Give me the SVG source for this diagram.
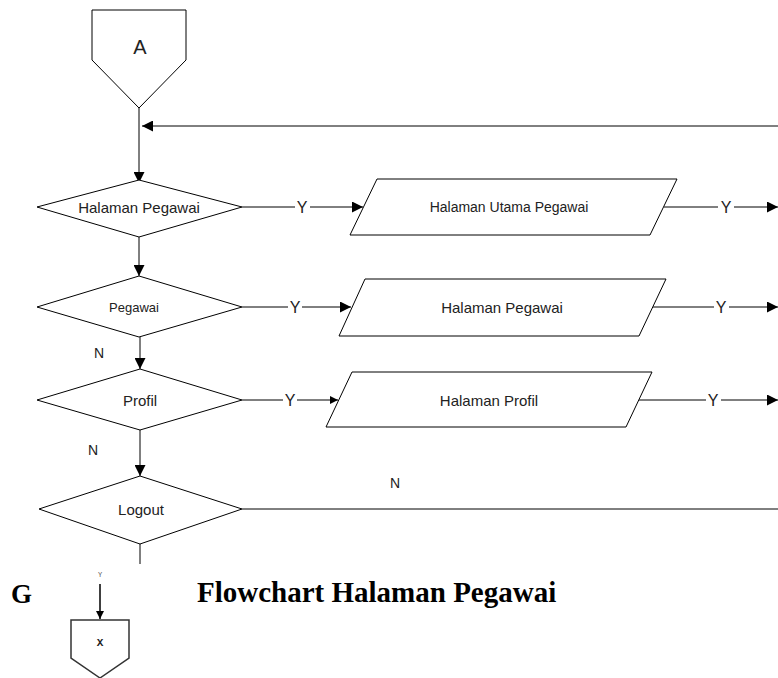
<svg xmlns="http://www.w3.org/2000/svg" width="778" height="678" viewBox="0 0 778 678">
<style>
.s{fill:#fff;stroke:#000;stroke-width:1}
.l{fill:none;stroke:#000;stroke-width:1}
.t{font-family:"Liberation Sans",Arial,sans-serif;font-size:14px;fill:#222;text-anchor:middle;dominant-baseline:central}
.y{font-family:"Liberation Sans",Arial,sans-serif;font-size:16px;fill:#222;text-anchor:middle;dominant-baseline:central}
.b{font-family:"Liberation Serif","Times New Roman",serif;font-weight:bold;fill:#000}
</style>
<defs>
<marker id="ah" viewBox="0 0 10 10" refX="10" refY="5" markerWidth="11" markerHeight="11" markerUnits="userSpaceOnUse" orient="auto">
<path d="M0,0 L10,5 L0,10 Z" fill="#000"/>
</marker>
<marker id="ahs" viewBox="0 0 10 10" refX="10" refY="5" markerWidth="8" markerHeight="8" markerUnits="userSpaceOnUse" orient="auto">
<path d="M0,0 L10,5 L0,10 Z" fill="#000"/>
</marker>
</defs>
<g id="connectors">
<line class="l" x1="139" y1="108" x2="139" y2="183" marker-end="url(#ah)"/>
<line class="l" x1="778" y1="126" x2="142" y2="126" marker-end="url(#ah)"/>
<line class="l" x1="242" y1="207" x2="295" y2="207"/>
<line class="l" x1="310" y1="207" x2="363" y2="207" marker-end="url(#ah)"/>
<line class="l" x1="664" y1="207" x2="718" y2="207"/>
<line class="l" x1="734" y1="207" x2="778" y2="207" marker-end="url(#ah)"/>
<line class="l" x1="139" y1="237" x2="139" y2="276" marker-end="url(#ah)"/>
<line class="l" x1="242" y1="307" x2="288" y2="307"/>
<line class="l" x1="302" y1="307" x2="351" y2="307" marker-end="url(#ah)"/>
<line class="l" x1="653" y1="307" x2="714" y2="307"/>
<line class="l" x1="729" y1="307" x2="778" y2="307" marker-end="url(#ah)"/>
<line class="l" x1="140" y1="337" x2="140" y2="369" marker-end="url(#ah)"/>
<line class="l" x1="242" y1="400" x2="283" y2="400"/>
<line class="l" x1="297" y1="400" x2="338" y2="400" marker-end="url(#ahs)"/>
<line class="l" x1="639" y1="400" x2="706" y2="400"/>
<line class="l" x1="721" y1="400" x2="778" y2="400" marker-end="url(#ah)"/>
<line class="l" x1="140" y1="430" x2="140" y2="476" marker-end="url(#ah)"/>
<line class="l" x1="242" y1="509" x2="778" y2="509"/>
<line class="l" x1="140" y1="544" x2="140" y2="564"/>
<text class="y" x="302" y="207">Y</text>
<text class="y" x="726" y="207">Y</text>
<text class="y" x="295" y="307">Y</text>
<text class="y" x="721" y="307">Y</text>
<text class="y" x="290" y="400">Y</text>
<text class="y" x="713" y="400">Y</text>
<text class="t" x="99" y="353">N</text>
<text class="t" x="93" y="450">N</text>
<text class="t" x="395" y="483">N</text>
</g>
<g id="nodeA">
<polygon class="s" points="92,10 186,10 186,60 139,108 92,60"/>
<text class="y" x="140" y="47" style="font-size:20px">A</text>
</g>
<g id="d1">
<polygon class="s" points="37,207 139,180 242,207 139,237"/>
<text class="t" x="139" y="207" style="font-size:15px">Halaman Pegawai</text>
</g>
<g id="p1">
<polygon class="s" points="377,179 677,179 650,235 350,235"/>
<text class="t" x="509" y="207">Halaman Utama Pegawai</text>
</g>
<g id="d2">
<polygon class="s" points="37,307 139,276 242,307 139,337"/>
<text class="t" x="134" y="307" style="font-size:13px">Pegawai</text>
</g>
<g id="p2">
<polygon class="s" points="365,279 666,279 639,336 339,336"/>
<text class="t" x="502" y="307" style="font-size:15px">Halaman Pegawai</text>
</g>
<g id="d3">
<polygon class="s" points="37,400 140,369 242,400 140,430"/>
<text class="t" x="140" y="400" style="font-size:15px">Profil</text>
</g>
<g id="p3">
<polygon class="s" points="352,372 652,372 626,427 326,427"/>
<text class="t" x="489" y="400" style="font-size:15px">Halaman Profil</text>
</g>
<g id="d4">
<polygon class="s" points="39,509 140,476 242,509 140,544"/>
<text class="t" x="141" y="509" style="font-size:15px">Logout</text>
</g>
<g id="legend">
<text class="b" x="11" y="603" font-size="27">G</text>
<text x="100" y="577" font-family="Liberation Mono,monospace" font-size="7" fill="#555" text-anchor="middle">Y</text>
<line x1="100" y1="584" x2="100" y2="619" stroke="#000" stroke-width="1.5" marker-end="url(#ahs)"/>
<polygon points="71,620 129,620 129,658 100,678 71,658" fill="#fff" stroke="#333" stroke-width="1.5"/>
<text x="100" y="646" font-family="Liberation Mono,monospace" font-weight="bold" font-size="11" fill="#222" text-anchor="middle">X</text>
</g>
<g id="title">
<text class="b" x="197" y="602" font-size="29">Flowchart Halaman Pegawai</text>
</g>
</svg>
